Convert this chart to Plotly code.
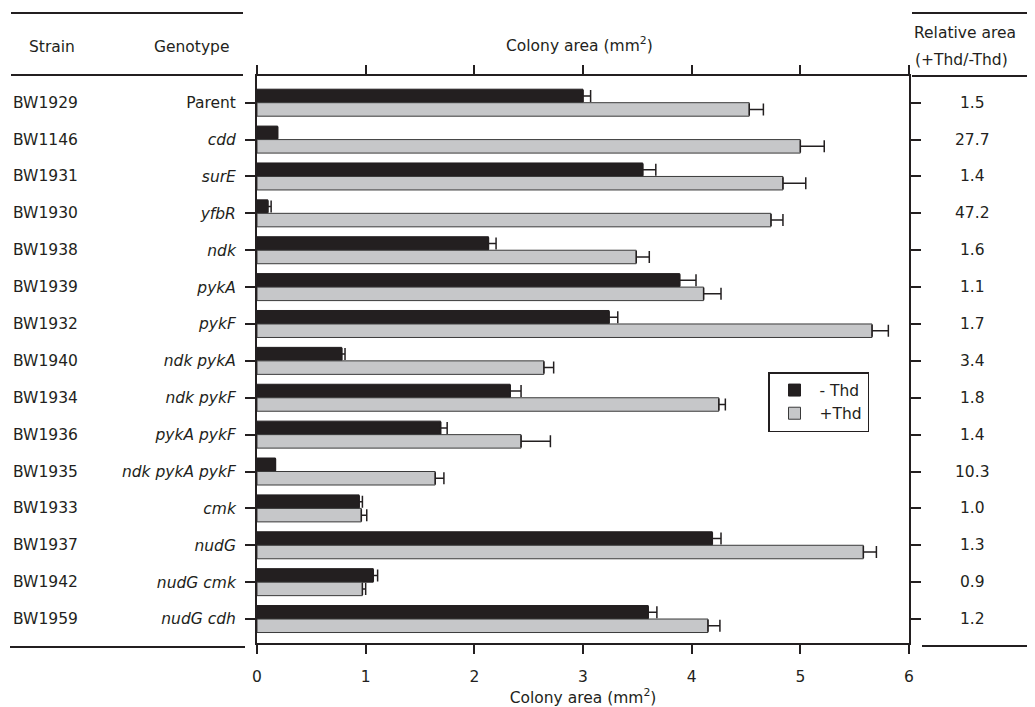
import plotly.graph_objects as go

strains = ["BW1929", "BW1146", "BW1931", "BW1930", "BW1938", "BW1939", "BW1932", "BW1940",
           "BW1934", "BW1936", "BW1935", "BW1933", "BW1937", "BW1942", "BW1959"]
genotypes = ["Parent", "cdd", "surE", "yfbR", "ndk", "pykA", "pykF", "ndk pykA",
             "ndk pykF", "pykA pykF", "ndk pykA pykF", "cmk", "nudG", "nudG cmk", "nudG cdh"]
italic = [False] + [True] * 14
minus_thd = [3.00, 0.19, 3.55, 0.10, 2.13, 3.89, 3.24, 0.78, 2.33, 1.69, 0.17, 0.94, 4.19, 1.07, 3.60]
minus_err = [0.07, 0.0, 0.12, 0.03, 0.07, 0.15, 0.08, 0.03, 0.10, 0.06, 0.0, 0.03, 0.08, 0.04, 0.08]
plus_thd = [4.53, 5.00, 4.84, 4.73, 3.49, 4.11, 5.66, 2.64, 4.25, 2.43, 1.64, 0.96, 5.58, 0.97, 4.15]
plus_err = [0.13, 0.22, 0.21, 0.11, 0.12, 0.16, 0.15, 0.09, 0.06, 0.27, 0.08, 0.05, 0.12, 0.03, 0.11]
relative = ["1.5", "27.7", "1.4", "47.2", "1.6", "1.1", "1.7", "3.4", "1.8", "1.4",
            "10.3", "1.0", "1.3", "0.9", "1.2"]
x_ticks = [0, 1, 2, 3, 4, 5, 6]

# page geometry (reference pixel coordinates); the page body adds an 8px offset
OFF = 8
PW, PH = 1035, 707
L, R, T, B = 257, 909, 76, 643
pw, ph = R - L, B - T
def px(x): return (x - L) / pw
def py(y): return (B - y) / ph

FONT = "DejaVu Sans, Liberation Sans, Arial, sans-serif"
FS = 15.5
DARK = "#231f20"
GRAY = "#c6c7c9"

fig = go.Figure()
fig.add_trace(go.Bar(
    y=strains, x=minus_thd, orientation="h", name="- Thd",
    marker=dict(color=DARK, line=dict(color=DARK, width=1)),
    error_x=dict(type="data", array=minus_err, arrayminus=[0] * len(strains), symmetric=False,
                 color=DARK, thickness=1.5, width=6),
))
fig.add_trace(go.Bar(
    y=strains, x=plus_thd, orientation="h", name="+Thd",
    marker=dict(color=GRAY, line=dict(color="#3a3a3a", width=1)),
    error_x=dict(type="data", array=plus_err, arrayminus=[0] * len(strains), symmetric=False,
                 color=DARK, thickness=1.5, width=6),
))

ticktext = [f"<i>{g}</i>" if it else g for g, it in zip(genotypes, italic)]
tf = dict(size=FS, color=DARK, family=FONT)

annotations = []
for s in strains:
    annotations.append(dict(x=px(11), y=s, xref="paper", yref="y", text=s, showarrow=False,
                            xanchor="left", yanchor="middle", font=tf))
for s, r in zip(strains, relative):
    annotations.append(dict(x=px(972), y=s, xref="paper", yref="y", text=r, showarrow=False,
                            xanchor="center", yanchor="middle", font=tf))
headers = [
    ("Strain", 52, 47, "center"),
    ("Genotype", 191, 47, "center"),
    ("Colony area (mm<sup>2</sup>)", 579, 45, "center"),
    ("Relative area", 912, 33, "left"),
    ("(+Thd/-Thd)", 913, 60, "left"),
]
for txt, x, y, xa in headers:
    annotations.append(dict(x=px(x), y=py(y), xref="paper", yref="paper", text=txt, showarrow=False,
                            xanchor=xa, yanchor="middle", font=tf))

shapes = []
for x0, x1, y in [(11, 243, 13), (11, 243, 75), (10, 245, 647), (912, 1035, 13), (912, 1035, 76), (922, 1035, 646)]:
    shapes.append(dict(type="line", xref="paper", yref="paper", x0=px(x0), x1=px(x1), y0=py(y), y1=py(y),
                       line=dict(color=DARK, width=2)))

fig.update_layout(
    width=PW - OFF, height=PH - OFF,
    margin=dict(l=L - OFF, r=PW - R, t=T - OFF, b=PH - B, autoexpand=False),
    paper_bgcolor="white", plot_bgcolor="white",
    barmode="group", bargap=0.268, bargroupgap=0,
    font=dict(family=FONT, size=FS, color=DARK),
    showlegend=True,
    legend=dict(x=px(768), y=py(372), xanchor="left", yanchor="top",
                bordercolor=DARK, borderwidth=1.5, bgcolor="white",
                font=tf, tracegroupgap=0, itemwidth=40),
    annotations=annotations,
    shapes=shapes,
)
fig.update_xaxes(
    range=[0, 6], tickvals=x_ticks, ticktext=[str(v) for v in x_ticks],
    showgrid=False, zeroline=False, showline=True, linecolor=DARK, linewidth=2,
    mirror="ticks", ticks="outside", ticklen=9, tickwidth=2, tickcolor=DARK,
    ticklabelstandoff=9,
    title=dict(text="Colony area (mm<sup>2</sup>)", standoff=9, font=tf),
    tickfont=tf,
)
fig.update_yaxes(
    type="category", categoryorder="array", categoryarray=strains,
    range=[14.65, -0.724], tickvals=strains, ticktext=ticktext,
    showgrid=False, zeroline=False, showline=True, linecolor=DARK, linewidth=2,
    mirror="ticks", ticks="outside", ticklen=10, tickwidth=2, tickcolor=DARK,
    ticklabelstandoff=6,
    tickfont=tf,
)

fig.write_html("out.html")
